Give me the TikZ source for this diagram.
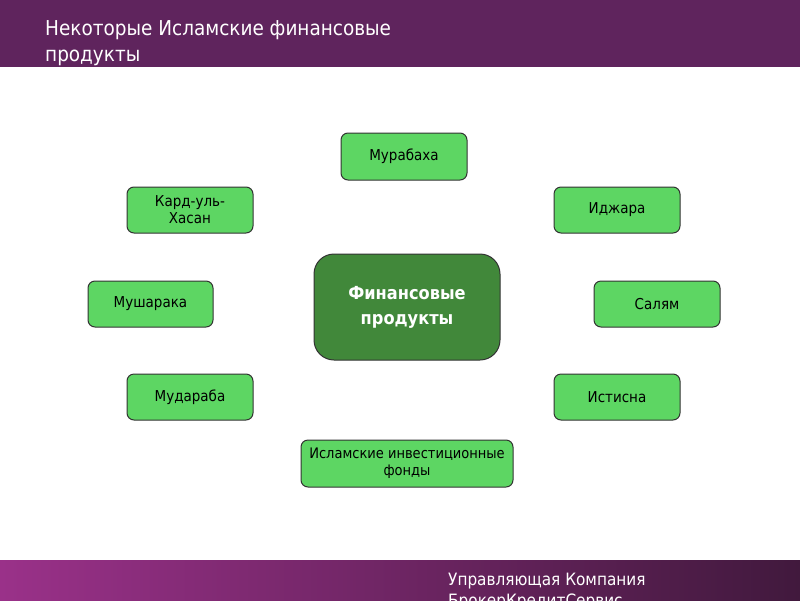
\documentclass[tikz,border=0pt]{standalone}
\usepackage{fontspec}
\setmainfont{DejaVu Sans Condensed}
\begin{document}
\begin{tikzpicture}[x=1pt,y=-1pt,
  box/.style={draw=black!80,fill=boxg,rounded corners=7pt,line width=1pt,align=center,font=\fontsize{15}{17}\selectfont,inner sep=0pt},
]
\definecolor{boxg}{HTML}{5DD663}
\definecolor{cen}{HTML}{41883A}
\definecolor{hdr}{HTML}{5F245D}
\definecolor{fl}{HTML}{9A3189}
\definecolor{fr}{HTML}{41193D}
\useasboundingbox (0,0) rectangle (800,600);
\fill[hdr] (0,0) rectangle (800,67);
\node[anchor=north west,text=white,align=left,font=\fontsize{20.5}{26}\selectfont,inner sep=0pt] (title) at (45,20) {Некоторые Исламские финансовые\\продукты};
\begin{scope}
\clip (0,0) rectangle (800,600);
\shade[left color=fl,right color=fr] (0,560) rectangle (800,600);
\node[anchor=north west,text=white,align=left,font=\fontsize{17}{21}\selectfont,inner sep=0pt] (foot) at (448,573) {Управляющая Компания\\БрокерКредитСервис};
\end{scope}
\node[box,minimum width=126pt,minimum height=47pt] (m1) at (404,156.5) {Мурабаха};
\node[box,minimum width=126pt,minimum height=46pt] (m2) at (190,210) {Кард-уль-\\Хасан};
\node[box,minimum width=126pt,minimum height=46pt] (m3) at (617,210) {Иджара};
\node[box,minimum width=125pt,minimum height=46pt] (m4) at (150.5,304) {Мушарака};
\node[box,minimum width=126pt,minimum height=46pt] (m5) at (657,304) {Салям};
\node[box,minimum width=126pt,minimum height=46pt] (m6) at (190,397) {Мудараба};
\node[box,minimum width=126pt,minimum height=46pt] (m7) at (617,397) {Истисна};
\node[box,minimum width=212pt,minimum height=47pt,font=\fontsize{14.5}{17}\selectfont] (m8) at (407,463.5) {Исламские инвестиционные\\фонды};
\node[box,fill=cen,rounded corners=20pt,minimum width=186pt,minimum height=106pt,text=white,font=\bfseries\fontsize{18}{25}\selectfont] (c) at (407,307) {Финансовые\\продукты};
\end{tikzpicture}
\end{document}
